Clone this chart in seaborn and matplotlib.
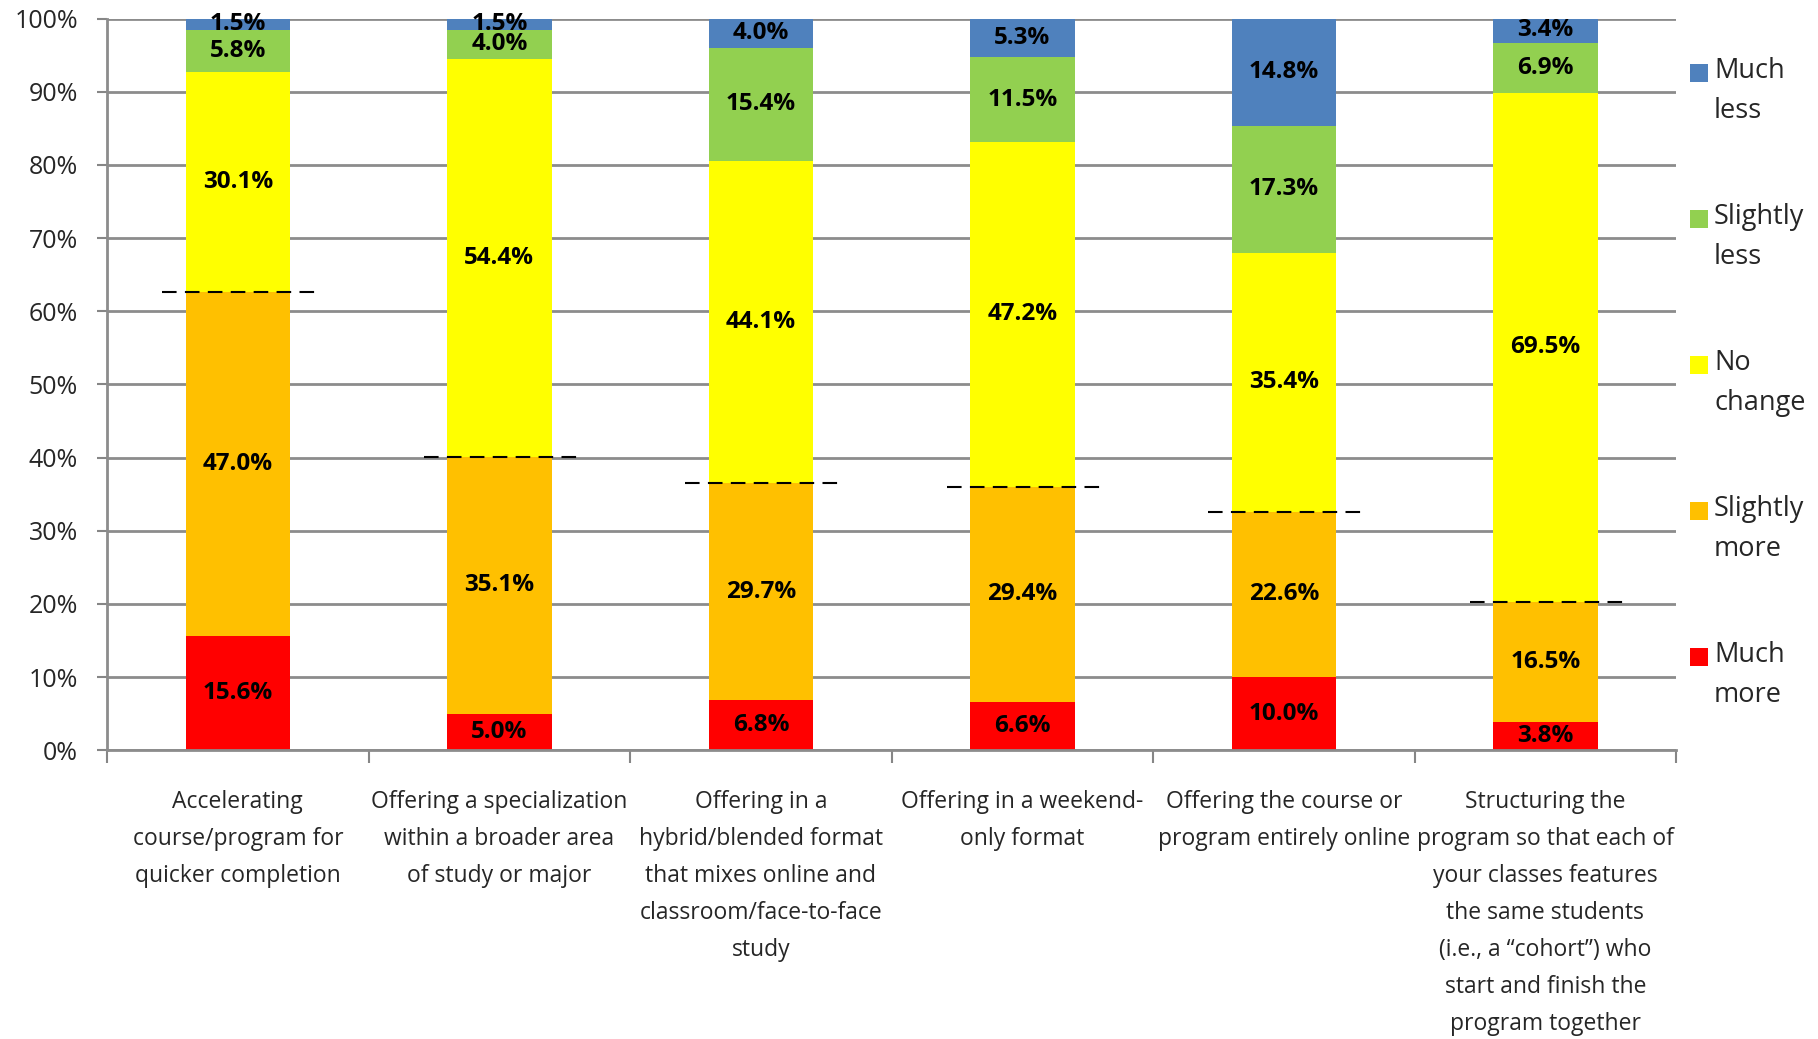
import matplotlib
matplotlib.use("Agg")
import matplotlib.pyplot as plt
from matplotlib import font_manager
from matplotlib.patches import Rectangle
import seaborn as sns
import numpy as np
import pandas as pd

categories = [
    "Accelerating\ncourse/program for\nquicker completion",
    "Offering a specialization\nwithin a broader area\nof study or major",
    "Offering in a\nhybrid/blended format\nthat mixes online and\nclassroom/face-to-face\nstudy",
    "Offering in a weekend-\nonly format",
    "Offering the course or\nprogram entirely online",
    "Structuring the\nprogram so that each of\nyour classes features\nthe same students\n(i.e., a \u201ccohort\u201d) who\nstart and finish the\nprogram together",
]
series_names = ["Much more", "Slightly more", "No change", "Slightly less", "Much less"]
much_more = [15.6, 5.0, 6.8, 6.6, 10.0, 3.8]
slightly_more = [47.0, 35.1, 29.7, 29.4, 22.6, 16.5]
no_change = [30.1, 54.4, 44.1, 47.2, 35.4, 69.5]
slightly_less = [5.8, 4.0, 15.4, 11.5, 17.3, 6.9]
much_less = [1.5, 1.5, 4.0, 5.3, 14.8, 3.4]
colors = ["#FF0000", "#FFC000", "#FFFF00", "#92D050", "#4F81BD"]
legend_labels = ["Much\nless", "Slightly\nless", "No\nchange", "Slightly\nmore", "Much\nmore"]

sns.set_theme(style="white")
avail = {f.name for f in font_manager.fontManager.ttflist}
fam = [f for f in ["Liberation Sans Narrow", "Open Sans", "DejaVu Sans"] if f in avail]
plt.rcParams["font.family"] = fam

W, H = 1818, 1039
fig = plt.figure(figsize=(W / 100, H / 100), dpi=100)
ax = fig.add_axes([0.0589, 0.278, 0.8631, 0.704])

series = [much_more, slightly_more, no_change, slightly_less, much_less]
ids = [f"c{i}" for i in range(len(categories))]
bottom = np.zeros(len(categories))
for name, vals, col in zip(series_names, series, colors):
    df = pd.DataFrame({"cat": ids, "val": vals})
    sns.barplot(data=df, x="cat", y="val", color=col, width=0.4, bottom=bottom,
                ax=ax, saturation=1, linewidth=0)
    for i, v in enumerate(vals):
        ax.text(i, bottom[i] + v / 2, f"{v:.1f}%", ha="center", va="center",
                fontsize=17.5, fontweight="bold", color="black", zorder=5)
    bottom = bottom + np.array(vals)
if ax.get_legend() is not None:
    ax.get_legend().remove()

# dashed reference lines at the "more" total
more_tot = np.array(much_more) + np.array(slightly_more)
for i, t in enumerate(more_tot):
    ax.plot([i - 0.29, i + 0.3], [t, t], color="black", lw=1.5,
            dashes=(7, 4), zorder=6)

ax.set_xlim(-0.5, len(categories) - 0.5)
ax.set_ylim(0, 100)
ax.set_yticks(np.arange(0, 101, 10))
ax.set_yticklabels([f"{v}%" for v in range(0, 101, 10)], fontsize=18)
ax.set_xticks(range(len(categories)))
ax.set_xticklabels(categories, fontsize=16.5, linespacing=1.72, va="top")
ax.set_xticks(np.arange(-0.5, len(categories), 1), minor=True)
ax.tick_params(axis="x", which="major", length=0, pad=29)
ax.tick_params(axis="x", which="minor", length=9, width=1.5, color="#868686", direction="out", bottom=True)
ax.tick_params(axis="y", which="major", length=7, width=1.5, color="#868686", direction="out", left=True, pad=14)
ax.set_xlabel("")
ax.set_ylabel("")
ax.yaxis.grid(True, color="#8c8c8c", lw=2)
ax.set_axisbelow(True)
for s in ["top", "right"]:
    ax.spines[s].set_visible(False)
for s in ["left", "bottom"]:
    ax.spines[s].set_color("#8c8c8c")
    ax.spines[s].set_linewidth(2)

# legend (manual, squares aligned to first text line)
leg_colors = colors[::-1]
for k, (lab, col) in enumerate(zip(legend_labels, leg_colors)):
    yc = 73 + k * 146  # pixel centre of first line, from top
    fig.patches.append(Rectangle((1690 / W, 1 - (yc + 9) / H), 18 / W, 18 / H,
                                 transform=fig.transFigure, facecolor=col, edgecolor="none"))
    fig.text(1714 / W, 1 - (yc - 16) / H, lab, fontsize=19.5, va="top", ha="left",
             linespacing=1.55)

fig.savefig("out.png", dpi=100)
